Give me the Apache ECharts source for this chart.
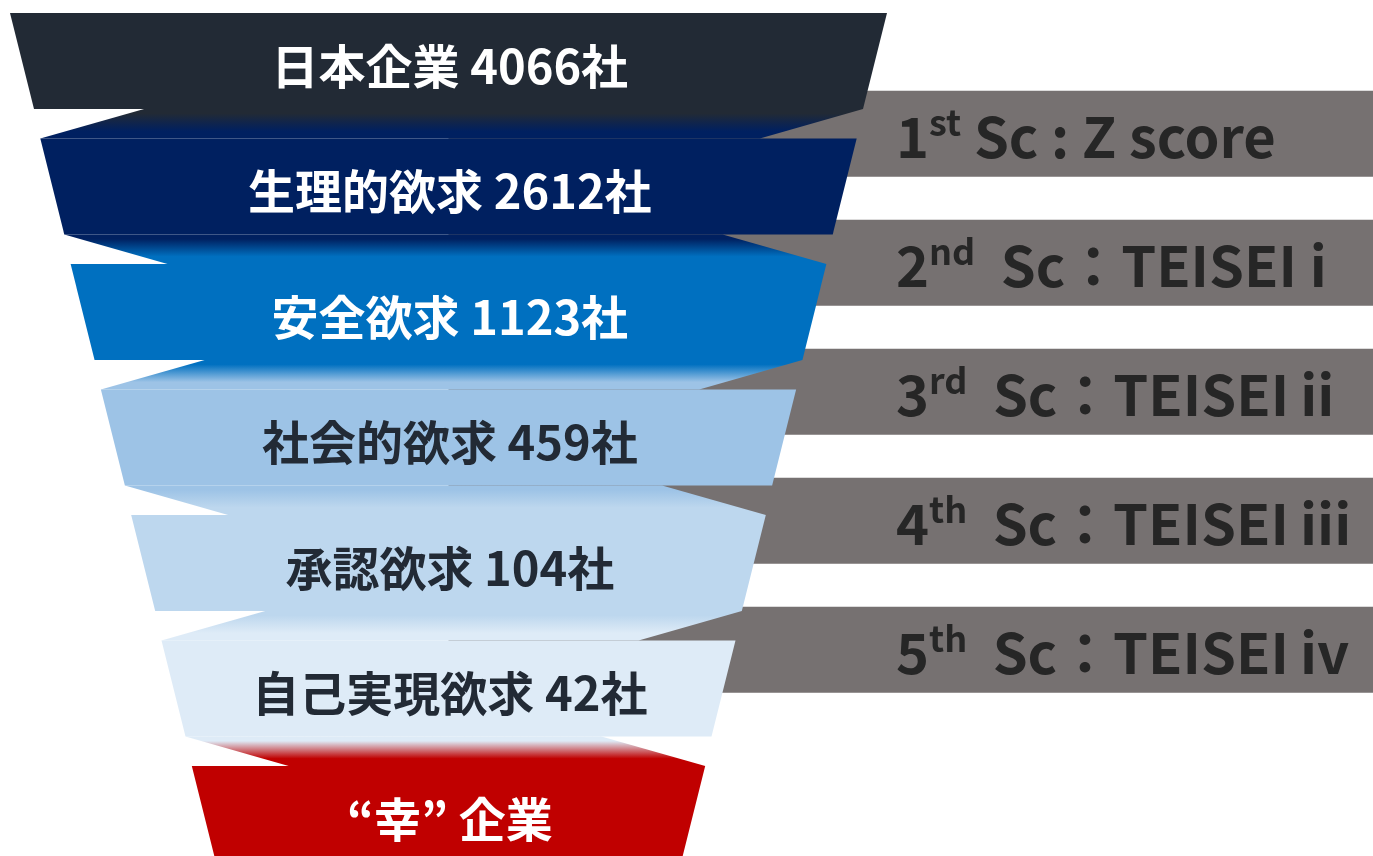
<!DOCTYPE html>
<html><head><meta charset="utf-8">
<script src="https://cdn.jsdelivr.net/npm/echarts@6/dist/echarts.min.js"></script>
<style>html,body{margin:0;padding:0;background:#fff;overflow:hidden}#main{width:1373px;height:856px}</style>
</head><body><div id="main"></div>
<script>
// ---- data ----
const stageNames = ['日本企業', '生理的欲求', '安全欲求', '社会的欲求', '承認欲求', '自己実現欲求', '“幸” 企業'];
const stageCounts = [4066, 2612, 1123, 459, 104, 42, null];
const stageUnit = '社';
const screenOrdinals = ['1', '2', '3', '4', '5'];
const screenSuffixes = ['st', 'nd', 'rd', 'th', 'th'];
const screenMethods = [' Sc : Z score', '  Sc：TEISEI i', '  Sc：TEISEI\u2009ii', '  Sc：TEISEI\u2009iii', '  Sc：TEISEI\u2009iv'];

// ---- styles ----
const stageFills = ['#222a35', '#002060', '#0070c0', '#9dc3e6', '#bdd7ee', '#deebf7', '#c00000'];
const stageTextColors = ['#ffffff', '#ffffff', '#ffffff', '#222a35', '#222a35', '#222a35', '#ffffff'];
const FONT = '"Noto Sans CJK JP", "Noto Sans", sans-serif';
const FACE_H = 0.765;      // face height as a fraction of a level
const WIDTH_STEP = 0.0691; // half-width decrease per level (x units)
const SLANT = 0.0547;      // half-width decrease across a face
const SHEAR_TOP = 0.251, SHEAR_BOT = 0.221;
const X_MIN = -1, X_MAX = 2.1083;
const Y_MAX = 843 / 125.5;
const BOX_FILL = '#767171', BOX_TEXT = '#262626';

const chart = echarts.init(document.getElementById('main'), null, {renderer: 'canvas'});

function halfTop(i) { return 1 - i * WIDTH_STEP; }
function halfBot(i) { return halfTop(i) - SLANT; }

function renderStage(params, api) {
  const i = api.value(1);
  const children = [];
  const P = (x, y) => api.coord([x, y]);
  if (i > 0) {
    const p = i - 1;
    const yt = p + FACE_H, yb = i;
    const bt = halfBot(p), tb = halfTop(i);
    let pts;
    if (p % 2 === 0) { // sheared left
      pts = [P(-bt + SHEAR_TOP, yt), P(bt, yt), P(tb - SHEAR_BOT, yb), P(-tb, yb)];
    } else {            // sheared right
      pts = [P(-bt, yt), P(bt - SHEAR_TOP, yt), P(tb, yb), P(-tb + SHEAR_BOT, yb)];
    }
    children.push({
      type: 'polygon', shape: {points: pts},
      style: {fill: new echarts.graphic.LinearGradient(0, 0, 0, 1, [
        {offset: 0, color: stageFills[p]}, {offset: 0.15, color: stageFills[p]},
        {offset: 0.75, color: stageFills[i]}, {offset: 1, color: stageFills[i]}])}
    });
  }
  const t = halfTop(i), b = halfBot(i);
  children.push({
    type: 'polygon',
    shape: {points: [P(-t, i), P(t, i), P(b, i + FACE_H), P(-b, i + FACE_H)]},
    style: {fill: stageFills[i]}
  });
  const c = P(0.003, i + FACE_H / 2 + 0.04);
  const label = stageCounts[i] != null ? stageNames[i] + ' ' + stageCounts[i] + stageUnit : stageNames[i];
  children.push({
    type: 'text', x: c[0], y: c[1],
    style: {text: label, fill: stageTextColors[i], fontSize: 47, fontWeight: 'bold', fontFamily: FONT,
            align: 'center', verticalAlign: 'middle'}
  });
  return {type: 'group', children};
}

function renderBox(params, api) {
  const k = api.value(1);
  const c = api.coord([0, k]);
  const r = api.coord([X_MAX, k]);
  const band = api.size([0, 1])[1];
  const h = band * 0.667;
  const tx = api.coord([1.0205, k])[0];
  return {type: 'group', children: [
    {type: 'rect', shape: {x: c[0], y: c[1] - h / 2, width: r[0] - c[0], height: h}, style: {fill: BOX_FILL}},
    {type: 'text', x: tx, y: c[1] + 3, style: {
      text: '{n|' + screenOrdinals[k] + '}{s|' + screenSuffixes[k] + '}{n|' + screenMethods[k] + '}',
      align: 'left', verticalAlign: 'middle',
      rich: {
        n: {fontSize: 56, fontWeight: 'bold', fontFamily: FONT, fill: BOX_TEXT, lineHeight: 64, verticalAlign: 'middle'},
        s: {fontSize: 36, fontWeight: 'bold', fontFamily: FONT, fill: BOX_TEXT, lineHeight: 64, verticalAlign: 'top', padding: [0, 0, 26, 0]}
      }
    }}
  ]};
}

chart.setOption({
  animation: false,
  grid: [
    {left: 10, right: 0, top: 13, bottom: 0},
    {left: 10, right: 0, top: 69.3, height: 645}
  ],
  xAxis: [
    {type: 'value', gridIndex: 0, min: X_MIN, max: X_MAX, show: false},
    {type: 'value', gridIndex: 1, min: X_MIN, max: X_MAX, show: false}
  ],
  yAxis: [
    {type: 'value', gridIndex: 0, min: 0, max: Y_MAX, inverse: true, show: false},
    {type: 'category', gridIndex: 1, data: screenOrdinals, inverse: true, show: false}
  ],
  series: [
    {type: 'custom', xAxisIndex: 1, yAxisIndex: 1, z: 1, clip: false,
     data: screenOrdinals.map((o, k) => [0, k]), encode: {x: 0, y: 1}, renderItem: renderBox},
    {type: 'custom', xAxisIndex: 0, yAxisIndex: 0, z: 2, clip: false,
     data: stageNames.map((n, i) => [0, i]), encode: {x: 0, y: 1}, renderItem: renderStage}
  ]
});
</script></body></html>
